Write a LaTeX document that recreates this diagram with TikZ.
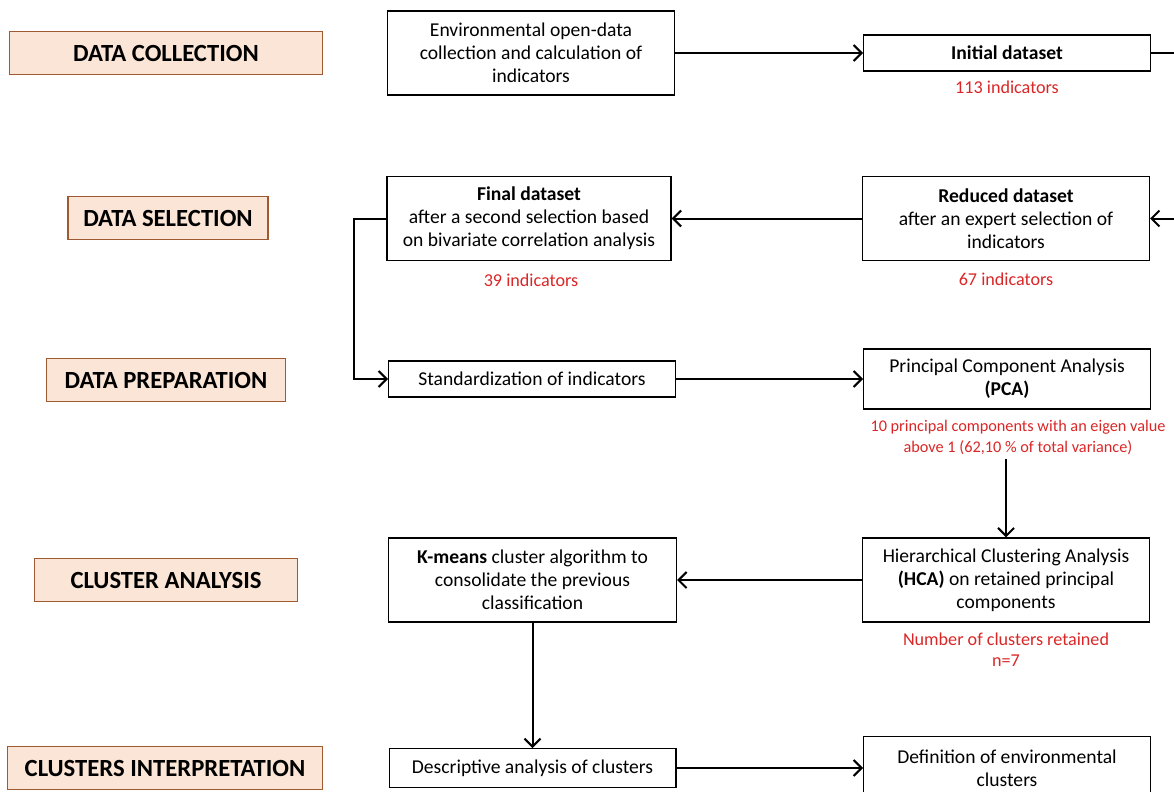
\documentclass[tikz,border=0pt]{standalone}
\usepackage{fontspec}
\setmainfont{Carlito}
\usetikzlibrary{arrows.meta}

\definecolor{phasefill}{RGB}{251,229,214}
\definecolor{phaseline}{RGB}{160,90,50}
\definecolor{notered}{RGB}{218,38,38}

\begin{document}
\begin{tikzpicture}[
  x=0.75pt, y=-0.75pt,
  phase/.style={draw=phaseline, fill=phasefill, line width=1.1pt, inner sep=0pt, minimum height=32pt, font=\fontsize{18.5}{21}\selectfont\bfseries},
  proc/.style={draw=black, line width=1pt, inner sep=2pt, align=center, font=\fontsize{14.7}{17.25}\selectfont},
  note/.style={text=notered, align=center, font=\fontsize{13.6}{15.75}\selectfont},
  flow/.style={line width=1.5pt, -{Straight Barb[length=6pt, width=12pt]}}
]
  % pixel grid of the page
  \useasboundingbox (0,0) rectangle (1174,792);

  % --- FASES ---
  \node[phase, minimum width=235pt] (pcol)  at (166,53)  {DATA COLLECTION};
  \node[phase, minimum width=150pt] (psel)  at (168,218) {DATA SELECTION};
  \node[phase, minimum width=179pt] (pprep) at (166,380) {DATA PREPARATION};
  \node[phase, minimum width=197pt] (pclus) at (166,580) {CLUSTER ANALYSIS};
  \node[phase, minimum width=236pt] (pint)  at (165,768) {CLUSTERS INTERPRETATION};

  % --- CAJAS ---
  \node[proc, minimum width=215pt, minimum height=63pt] (env) at (531,53)
    {Environmental open-data\\collection and calculation of\\indicators};
  \node[proc, minimum width=215pt, minimum height=27pt] (init) at (1007,53)
    {\textbf{Initial dataset}};
  \node[proc, minimum width=213pt, minimum height=63pt] (final) at (529,218.5)
    {\textbf{Final dataset}\\after a second selection based\\on bivariate correlation analysis};
  \node[proc, minimum width=215pt, minimum height=63pt] (reduced) at (1006,218.5)
    {\textbf{Reduced dataset}\\after an expert selection of\\indicators};
  \node[proc, minimum width=215pt, minimum height=27pt] (stand) at (532,379)
    {Standardization of indicators};
  \node[proc, minimum width=215pt, minimum height=45pt] (pca) at (1007,379)
    {Principal Component Analysis\\\textbf{(PCA)}};
  \node[proc, minimum width=216pt, minimum height=63pt] (kmeans) at (532.5,580)
    {\textbf{K-means} cluster algorithm to\\consolidate the previous\\classification};
  \node[proc, minimum width=215pt, minimum height=63pt] (hca) at (1006,580)
    {Hierarchical Clustering Analysis\\\textbf{(HCA)} on retained principal\\components};
  \node[proc, minimum width=215pt, minimum height=29pt] (desc) at (532.5,768)
    {Descriptive analysis of clusters};
  \node[proc, minimum width=215pt, minimum height=47pt] (defn) at (1007,768)
    {Definition of environmental\\clusters};

  % --- NOTAS ---
  \node[note] (n113) at (1007,87)  {113 indicators};
  \node[note] (n39)  at (531,280)  {39 indicators};
  \node[note] (n67)  at (1006,279) {67 indicators};
  \node[note, font=\fontsize{12.2}{15.75}\selectfont] (npca) at (1018,437)
    {10 principal components with an eigen value\\above 1 (62,10 \% of total variance)};
  \node[note] (nhca) at (1006,650) {Number of clusters retained\\n=7};

  % --- FLECHAS ---
  \coordinate (out) at (1200,53);
  \draw[flow] (env) -- (init);
  \draw[flow] (init.east) -- (out) |- (reduced.east);
  \draw[flow] (reduced) -- (final);
  \draw[flow] (final.west) -- ++(-32,0) |- (stand.west);
  \draw[flow] (stand) -- (pca);
  \draw[flow] (hca.north |- npca.south) -- (hca.north);
  \draw[flow] (hca) -- (kmeans);
  \draw[flow] (kmeans) -- (desc);
  \draw[flow] (desc) -- (defn);
\end{tikzpicture}
\end{document}
